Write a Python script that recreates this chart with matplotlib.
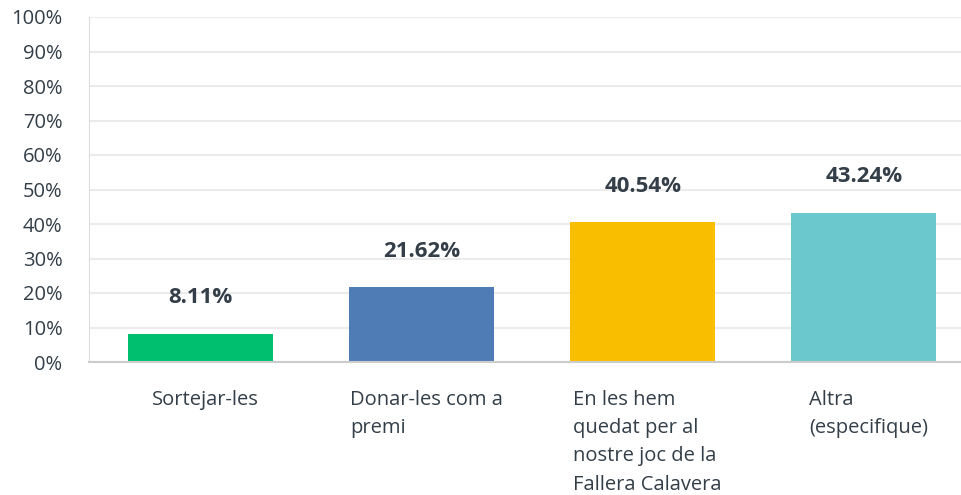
import matplotlib.pyplot as plt

categories = ["Sortejar-les", "Donar-les com a\npremi",
              "En les hem\nquedat per al\nnostre joc de la\nFallera Calavera",
              "Altra\n(especifique)"]
values = [8.11, 21.62, 40.54, 43.24]
colors = ["#00BF6F", "#507CB6", "#F9BE00", "#6BC8CD"]
yticks = list(range(0, 101, 10))

text_col = "#333E48"
plt.rcParams['font.family'] = ['Open Sans', 'DejaVu Sans']

fig = plt.figure(figsize=(9.61, 4.95), dpi=100)
ax = fig.add_axes([89 / 961, 1 - 362 / 495, 872 / 961, 345 / 495])

x = list(range(len(categories)))
ax.bar(x, values, width=0.656, color=colors, zorder=3)

for xi, v in zip(x, values):
    ax.annotate(f"{v:.2f}%", (xi, v), xytext=(0, 26), textcoords="offset points",
                ha="center", va="center", fontsize=16, fontweight="bold", color=text_col)

for xi, lab in zip(x, categories):
    ax.annotate(lab, (xi, 0), xytext=(3.5, -20), textcoords="offset points",
                ha="center", va="top", multialignment="left",
                fontsize=14.5, color=text_col, linespacing=1.55)

ax.set_xlim(-0.505, 3.44)
ax.set_ylim(0, 100)
ax.set_yticks(yticks)
ax.set_yticklabels([f"{t}%" for t in yticks], fontsize=14.5, color=text_col)
ax.set_xticks([])
ax.tick_params(axis="y", length=0, pad=19)
ax.grid(axis="y", color="#EBEBEB", linewidth=1.5, zorder=0)
for s in ["top", "right"]:
    ax.spines[s].set_visible(False)
ax.spines["left"].set_color("#DDDDDD")
ax.spines["bottom"].set_color("#CCCCCC")
ax.spines["bottom"].set_linewidth(1.5)
ax.spines["bottom"].set_zorder(4)

fig.savefig("out.png", dpi=100)
